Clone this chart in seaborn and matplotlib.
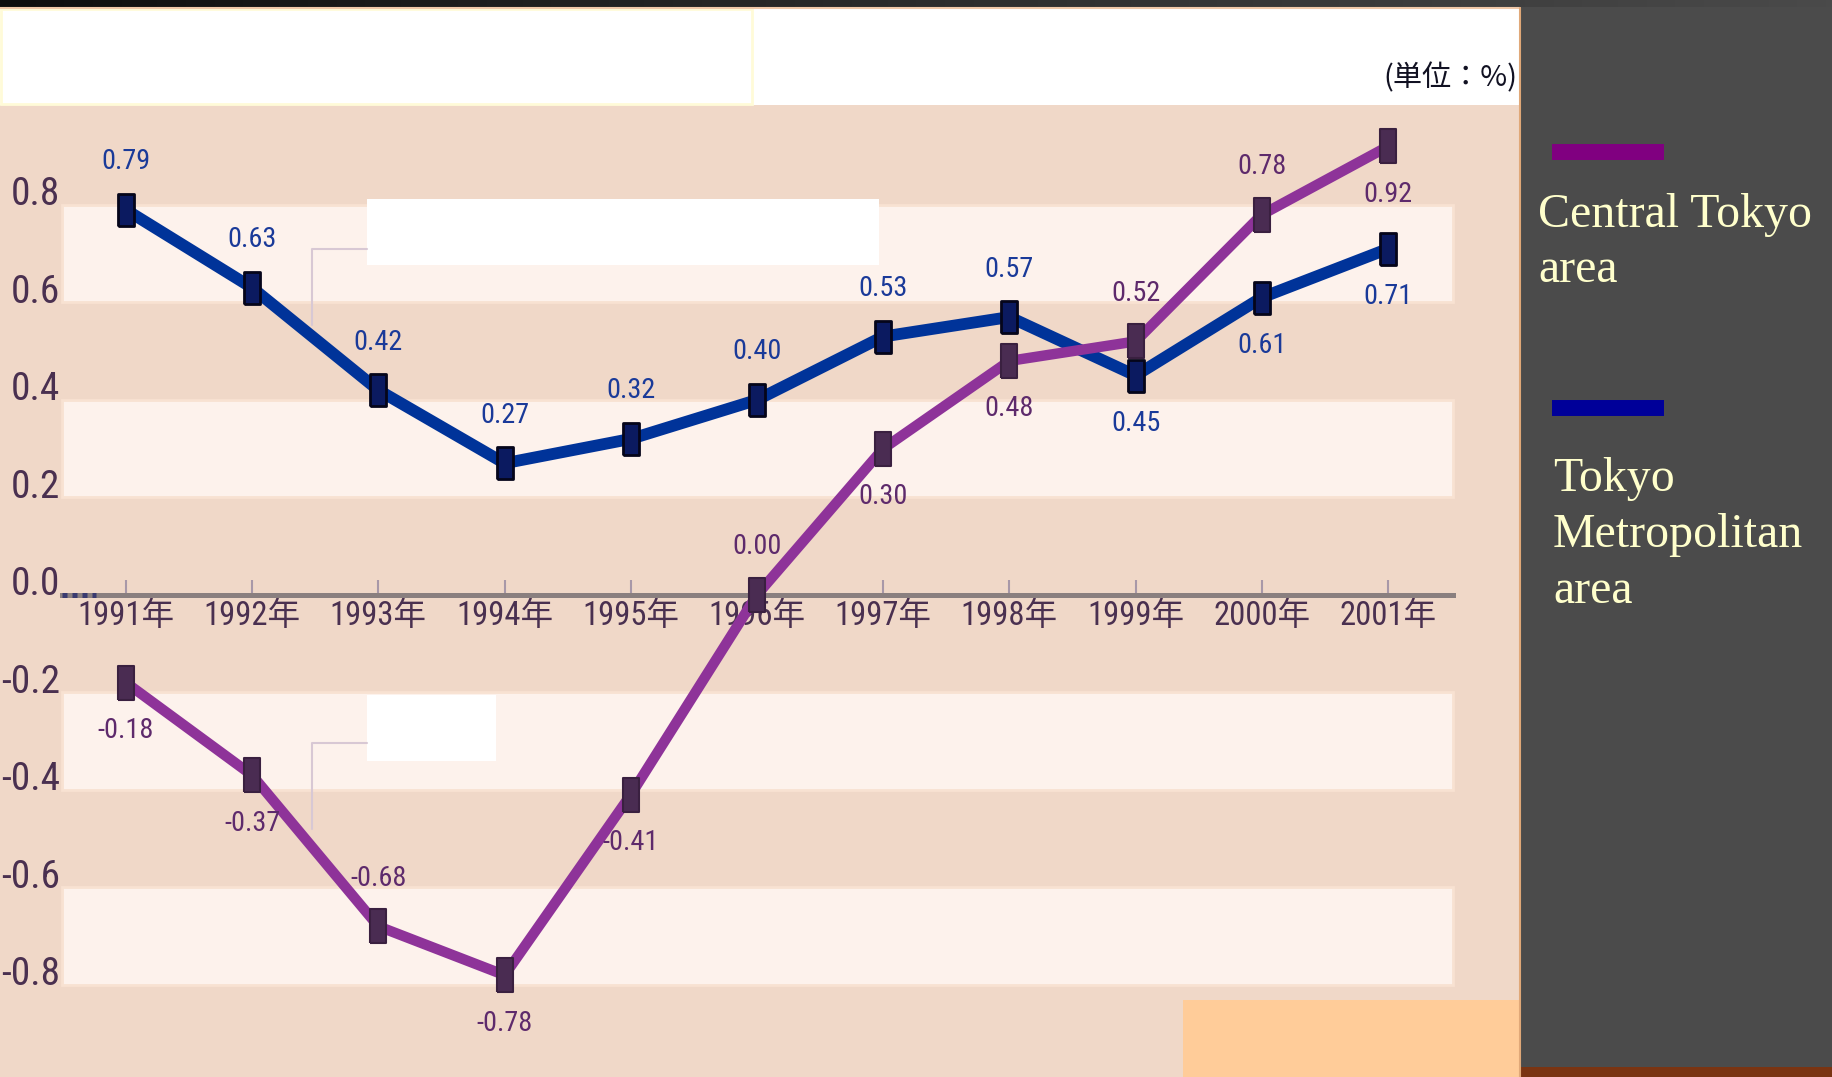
import numpy as np
import pandas as pd
import seaborn as sns
import matplotlib.pyplot as plt
from matplotlib import font_manager as fm
from matplotlib.font_manager import FontProperties
from matplotlib.textpath import TextPath
from matplotlib.patches import Rectangle
from matplotlib.lines import Line2D
from matplotlib.transforms import ScaledTranslation
from matplotlib.colors import LinearSegmentedColormap

# data (unit: %)
years = [1991, 1992, 1993, 1994, 1995, 1996, 1997, 1998, 1999, 2000, 2001]
central_tokyo = [-0.18, -0.37, -0.68, -0.78, -0.41, 0.00, 0.30, 0.48, 0.52, 0.78, 0.92]
tokyo_metro = [0.79, 0.63, 0.42, 0.27, 0.32, 0.40, 0.53, 0.57, 0.45, 0.61, 0.71]
y_ticks = [0.8, 0.6, 0.4, 0.2, 0.0, -0.2, -0.4, -0.6, -0.8]
x_labels = [f"{y}年" for y in years]
light_bands = [(0.6, 0.8), (0.2, 0.4), (-0.4, -0.2), (-0.8, -0.6)]
# +1 label above the point, -1 below
central_side = [-1, -1, 1, -1, -1, 1, -1, -1, 1, 1, -1]
metro_side = [1, 1, 1, 1, 1, 1, 1, 1, -1, -1, -1]

W, H = 1833, 1077
PLOT_W, PLOT_TOP = 1520, 105


def fx(px):
    return px / W


def fy(py):
    return 1 - py / H


def axx(px):
    return px / PLOT_W


def axy(py):
    return (H - py) / (H - PLOT_TOP)


# pick a narrow sans face for the squeezed labels of the original
def pick_narrow():
    prefs = ["Liberation Sans Narrow", "Roboto Condensed", "Noto Sans Condensed",
             "Noto Sans", "DejaVu Sans Condensed", "DejaVu Sans", "Open Sans Condensed",
             "Open Sans", "Roboto", "Lato", "Inter"]
    regular = (400, "normal", "regular", "book", "medium", 500)
    found = {}
    for f in fm.fontManager.ttflist:
        if f.style != "normal" or f.weight not in regular:
            continue
        narrow = f.stretch != "normal" or "Narrow" in f.name or "Condensed" in f.name
        if narrow:
            found.setdefault(f.name, f.stretch)
    for p in prefs:
        if p in found:
            return p, found[p]
    if found:
        return sorted(found)[0], found[sorted(found)[0]]
    return "DejaVu Sans", "normal"


NARROW, STRETCH = pick_narrow()
LABEL_FAMILY = [NARROW, "Noto Sans CJK JP", "DejaVu Sans"]


def fit_size(text, w_px, h_px):
    # size in pt: digit height ~0.72 em, so h_px of digits -> h_px pt at 100 dpi
    prop = FontProperties(family=LABEL_FAMILY, stretch=STRETCH, size=20)
    try:
        w = TextPath((0, 0), text, size=20, prop=prop).get_extents().width
    except Exception:
        w = 20 * 0.55 * len(text)
    size_w = 20 * (w_px * 0.72) / w
    return min(h_px, size_w * 1.12)


YT_SIZE = fit_size("0.8", 40, 33)
XT_SIZE = fit_size("1991年", 83, 28)
DL_SIZE = fit_size("0.79", 41, 26)

sns.set_theme(style="white")
plt.rcParams["font.family"] = LABEL_FAMILY
plt.rcParams["font.stretch"] = STRETCH

fig = plt.figure(figsize=(W / 100, H / 100), dpi=100)
fig.patch.set_facecolor("#4B4B4B")

# top dark strip with gradient
strip = fig.add_axes([0, fy(7), 1, 7 / H])
strip.imshow(np.linspace(0, 1, 256)[None, :], aspect="auto",
             cmap=LinearSegmentedColormap.from_list("g", ["#0E0E0E", "#4A4A4A"]))
strip.axis("off")

# white header
fig.add_artist(Rectangle((0, fy(105)), PLOT_W / W, 97 / H, transform=fig.transFigure,
                         facecolor="white", edgecolor="none"))
fig.add_artist(Rectangle((fx(1), fy(104)), 751 / W, 95 / H, transform=fig.transFigure,
                         fill=False, edgecolor="#FFFBD8", lw=2))
fig.add_artist(Line2D([0, fx(PLOT_W)], [fy(8), fy(8)], transform=fig.transFigure,
                      color="#F0C8A8", lw=1.5))
fig.text(fx(1517), fy(78), "(単位：%)", ha="right", va="center", fontsize=21,
         family=["Noto Sans CJK JP", "DejaVu Sans"], stretch="normal", color="#111122")

# main plot
ax = fig.add_axes([0, 0, PLOT_W / W, (H - PLOT_TOP) / H])
ax.set_facecolor("#F0D8C8")
ax.set_xlim(1990.002, 2002.046)
ax.set_ylim(-0.989, 1.005)

for lo, hi in light_bands:
    ax.axhspan(lo, hi, xmin=axx(62), xmax=axx(1453), facecolor="#FDF2EC",
               edgecolor="#F8E2D2", lw=2, zorder=0)

# white boxes with connector lines
for (x0, y0, x1, y1), (cx, cy0, cy1) in [((367, 199, 879, 265), (312, 249, 325)),
                                          ((367, 695, 496, 761), (312, 743, 829))]:
    ax.add_patch(Rectangle((axx(x0), axy(y1)), axx(x1) - axx(x0), axy(y0) - axy(y1),
                           transform=ax.transAxes, facecolor="white", edgecolor="none", zorder=1))
    ax.plot([axx(x0), axx(cx), axx(cx)], [axy(cy0), axy(cy0), axy(cy1)],
            transform=ax.transAxes, color="#D8C8D4", lw=1.5, zorder=1)

ax.add_patch(Rectangle((axx(1183), 0), axx(PLOT_W) - axx(1183), axy(1000), transform=ax.transAxes,
                       facecolor="#FFCC99", edgecolor="none", zorder=1))

rect_marker = [(-0.5, -1), (0.5, -1), (0.5, 1), (-0.5, 1), (-0.5, -1)]

sns.lineplot(x=years, y=tokyo_metro, ax=ax, color="#003399", lw=8.5, marker=rect_marker,
             markersize=23, markerfacecolor="#0B1A60", markeredgecolor="#05051A",
             markeredgewidth=2, zorder=4)
sns.lineplot(x=years, y=central_tokyo, ax=ax, color="#8E3399", lw=7.5, marker=rect_marker,
             markersize=24, markerfacecolor="#4A2C52", markeredgecolor="#3A2040",
             markeredgewidth=1.5, zorder=4)

for x, v, s in zip(years, tokyo_metro, metro_side):
    ax.annotate(f"{v:.2f}", (x, v), xytext=(0, s * 34.5), textcoords="offset points",
                ha="center", va="center", fontsize=DL_SIZE, color="#1A3A99", zorder=5)
for x, v, s in zip(years, central_tokyo, central_side):
    ax.annotate(f"{v:.2f}", (x, v), xytext=(0, s * 34.5), textcoords="offset points",
                ha="center", va="center", fontsize=DL_SIZE, color="#5E2A6C", zorder=5)

# axes
for side in ["top", "right", "left"]:
    ax.spines[side].set_visible(False)
ax.spines["bottom"].set_position(("data", 0))
ax.spines["bottom"].set_bounds(1991 - 64 / 126.2, 2001 + 65 / 126.2)
ax.spines["bottom"].set_color("#8A7F7F")
ax.spines["bottom"].set_linewidth(3.6)
ax.axhline(0, xmin=axx(62), xmax=axx(96), color="#3A3A70", lw=3.6, ls=(0, (1, 1)), zorder=3)

ax.set_xticks(years, x_labels)
ax.set_yticks(y_ticks, [f"{t:.1f}" for t in y_ticks])
ax.tick_params(axis="x", direction="in", length=11, width=1.5, color="#A898A8", pad=4,
               labelsize=XT_SIZE, labelcolor="#4A3050", bottom=True)
ax.tick_params(axis="y", direction="in", length=0, pad=-43, labelsize=YT_SIZE,
               labelcolor="#4A3050", left=True)
for lbl in ax.get_yticklabels():
    lbl.set_transform(lbl.get_transform() + ScaledTranslation(0, 14 / 100, fig.dpi_scale_trans))
ax.set_xlabel("")
ax.set_ylabel("")
ax.grid(False)

# right panel: border, legend, texture strip
fig.add_artist(Line2D([fx(PLOT_W), fx(PLOT_W)], [0, fy(8)], transform=fig.transFigure,
                      color="#E0A878", lw=1.5))
fig.add_artist(Rectangle((fx(1521), 0), 312 / W, 10 / H, transform=fig.transFigure,
                         facecolor="#7A3412", edgecolor="none"))

serif = ["Liberation Serif", "DejaVu Serif"]
fig.add_artist(Line2D([fx(1552), fx(1664)], [fy(152), fy(152)], transform=fig.transFigure,
                      color="#800080", lw=11.5, solid_capstyle="butt"))
fig.add_artist(Line2D([fx(1552), fx(1664)], [fy(408), fy(408)], transform=fig.transFigure,
                      color="#000099", lw=11.5, solid_capstyle="butt"))
fig.text(fx(1538), fy(282), "Central Tokyo\narea", ha="left", va="baseline",
         fontsize=34.5, family=serif, stretch="normal", color="#FFFFCC", linespacing=1.33)
fig.text(fx(1553), fy(603), "Tokyo\nMetropolitan\narea", ha="left", va="baseline",
         fontsize=34.5, family=serif, stretch="normal", color="#FFFFCC", linespacing=1.36)

fig.savefig("out.png", dpi=100, facecolor=fig.get_facecolor())
